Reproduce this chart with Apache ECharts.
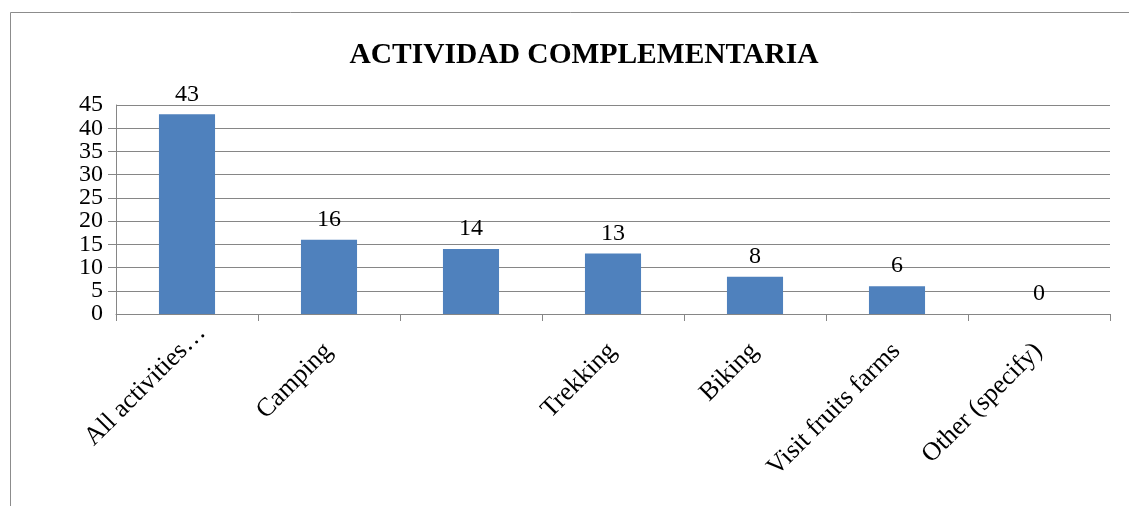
<!DOCTYPE html>
<html>
<head>
<meta charset="utf-8">
<script src="https://cdn.jsdelivr.net/npm/echarts@6/dist/echarts.min.js"></script>
<style>
  html, body { margin: 0; padding: 0; background: #ffffff; }
  #chart { width: 1129px; height: 506px; }
</style>
</head>
<body>
<div id="chart"></div>
<script>
// Complementary activities chosen by respondents
const categories = ['All activities…', 'Camping', '', 'Trekking', 'Biking', 'Visit fruits farms', 'Other (specify)'];
const counts = [43, 16, 14, 13, 8, 6, 0];
const yTicks = { min: 0, max: 45, interval: 5 };

const serif = '"Liberation Serif", "Times New Roman", serif';
const gray = '#868686';

// the truncated first label runs a little further along its slant
const categoryItems = categories.map((name, i) =>
  i === 0
    ? { value: name, textStyle: { align: 'right', verticalAlign: 'top', padding: [8, 0, 0, 0] } }
    : name
);

const yLabelBase = {
  margin: 13,
  fontFamily: serif,
  fontSize: 24,
  color: '#000',
  hideOverlap: false
};

const chart = echarts.init(document.getElementById('chart'), null, { renderer: 'canvas' });
chart.setOption({
  backgroundColor: '#ffffff',
  animation: false,
  title: {
    text: 'ACTIVIDAD COMPLEMENTARIA',
    left: 579,
    top: 35,
    textAlign: 'center',
    textStyle: { fontFamily: serif, fontSize: 29.5, fontWeight: 'bold', color: '#000' }
  },
  graphic: [{
    type: 'rect',
    left: 8, top: 10,
    shape: { width: 1200, height: 600 },
    style: { fill: 'none', stroke: '#8c8c8c', lineWidth: 1 },
    silent: true
  }],
  grid: { left: 116, right: 19, top: 105, bottom: 192 },
  xAxis: {
    type: 'category',
    data: categoryItems,
    axisLine: { lineStyle: { color: gray, width: 1 } },
    axisTick: { show: true, length: 7, alignWithLabel: false, lineStyle: { color: gray } },
    axisLabel: {
      interval: 0,
      rotate: 45,
      margin: 0,
      align: 'right',
      verticalAlign: 'top',
      padding: [10, 24, 0, 0],
      fontFamily: serif,
      fontSize: 26,
      color: '#000'
    }
  },
  yAxis: [
    {
      // grid, axis line, ticks and the inner tick labels
      type: 'value',
      min: yTicks.min,
      max: yTicks.max,
      interval: yTicks.interval,
      axisLine: { show: true, lineStyle: { color: gray, width: 1 } },
      axisTick: { show: true, inside: false, length: 8, lineStyle: { color: gray } },
      splitLine: { show: true, lineStyle: { color: gray, width: 1 } },
      axisLabel: Object.assign({}, yLabelBase, { showMinLabel: false, showMaxLabel: false })
    },
    {
      // end labels (0 and 45) on the same scale
      type: 'value',
      position: 'left',
      offset: 0,
      min: yTicks.min,
      max: yTicks.max,
      interval: yTicks.interval,
      axisLine: { show: false },
      axisTick: { show: false },
      splitLine: { show: false },
      axisLabel: Object.assign({}, yLabelBase, {
        showMinLabel: true,
        showMaxLabel: true,
        formatter: v => (v === yTicks.min || v === yTicks.max) ? String(v) : ''
      })
    }
  ],
  series: [{
    type: 'bar',
    yAxisIndex: 0,
    data: counts,
    barWidth: '39.5%',
    itemStyle: { color: '#4F81BD' },
    label: {
      show: true,
      position: 'top',
      distance: 8,
      fontFamily: serif,
      fontSize: 24,
      color: '#000'
    }
  }]
});
</script>
</body>
</html>
